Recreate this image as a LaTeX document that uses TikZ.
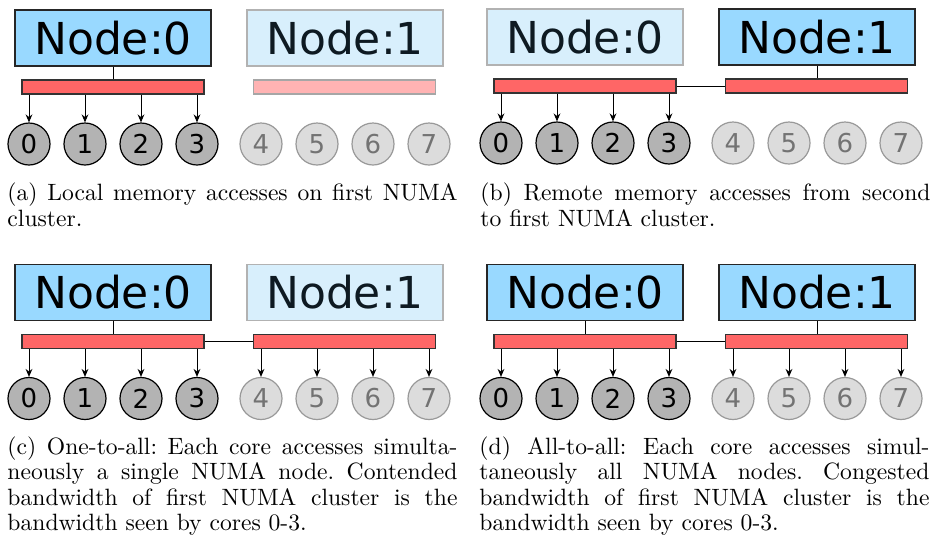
\documentclass[tikz,border=0pt]{standalone}
\usepackage{fontspec}
\newfontfamily\dejavu{DejaVu Sans}
\usetikzlibrary{arrows.meta}
\definecolor{nodeonc}{HTML}{99D9FF}
\definecolor{nodeoffc}{HTML}{D8EFFC}
\definecolor{nodeofftext}{HTML}{0E1A22}
\definecolor{baronc}{HTML}{FF6666}
\definecolor{baroffc}{HTML}{FFB3B3}
\definecolor{coreonc}{HTML}{B3B3B3}
\definecolor{coreoffc}{HTML}{DCDCDC}
\tikzset{
  numaon/.style={draw=black!85, line width=0.6pt, fill=nodeonc, minimum width=98pt,
    minimum height=28pt, inner sep=0pt, font=\dejavu\fontsize{22}{26}\selectfont},
  numaoff/.style={numaon, draw=black!30, fill=nodeoffc, text=nodeofftext},
  baron/.style={draw=black!80, fill=baronc, line width=0.6pt, minimum width=91pt,
    minimum height=7pt, inner sep=0pt},
  baroff/.style={baron, draw=black!35, fill=baroffc},
  coreon/.style={circle, draw=black, fill=coreonc, line width=0.6pt, minimum size=21pt,
    inner sep=0pt, font=\dejavu\fontsize{13}{15}\selectfont},
  coreoff/.style={coreon, draw=black!40, fill=coreoffc, text=black!55},
  acc/.style={-{Stealth[length=4pt,width=3.4pt]}, line width=0.5pt},
  link/.style={line width=0.5pt},
  captext/.style={anchor=base west, inner sep=0pt, scale=1.18, transform shape,
    font=\fontsize{10}{12}\selectfont\frenchspacing}
}
\newcommand\fl[1]{\makebox[190.7pt][s]{#1}}
\newcommand\numapanel[6]{%
  \begin{scope}[shift={(#2,#3)}]
    \node[#4] (#1n0) at (113,38) {Node:0};
    \node[#5] (#1n1) at (345,38) {Node:1};
    \node[baron] (#1b0) at (113,87) {};
    \node[#6] (#1b1) at (344.5,87) {};
    \foreach \i/\x in {0/29,1/85,2/141,3/197} {\node[coreon] (#1c\i) at (\x,144) {\i};}
    \foreach \i/\x in {4/261,5/317,6/373,7/429} {\node[coreoff] (#1c\i) at (\x,144) {\i};}
  \end{scope}}
\begin{document}
\begin{tikzpicture}[x=0.5pt,y=-0.5pt]
\useasboundingbox (0,0) rectangle (933,542);
% panels
\numapanel{a}{0}{0}{numaon}{numaoff}{baroff}
\numapanel{b}{472}{-1}{numaoff}{numaon}{baron}
\numapanel{c}{0}{254.5}{numaon}{numaoff}{baron}
\numapanel{d}{472}{254.5}{numaon}{numaon}{baron}
% (a)
\draw[link] (an0.south) -- (an0.south |- ab0.north);
\foreach \i in {0,...,3} {\draw[acc] (ab0.south -| ac\i) -- (ac\i);}
% (b)
\draw[link] (bn1.south) -- (bn1.south |- bb1.north);
\draw[link] (bb0) -- (bb1);
\foreach \i in {0,...,3} {\draw[acc] (bb0.south -| bc\i) -- (bc\i);}
% (c)
\draw[link] (cn0.south) -- (cn0.south |- cb0.north);
\draw[link] (cb0) -- (cb1);
\foreach \i in {0,...,3} {\draw[acc] (cb0.south -| cc\i) -- (cc\i);}
\foreach \i in {4,...,7} {\draw[acc] (cb1.south -| cc\i) -- (cc\i);}
% (d)
\draw[link] (dn0.south) -- (dn0.south |- db0.north);
\draw[link] (dn1.south) -- (dn1.south |- db1.north);
\draw[link] (db0) -- (db1);
\foreach \i in {0,...,3} {\draw[acc] (db0.south -| dc\i) -- (dc\i);}
\foreach \i in {4,...,7} {\draw[acc] (db1.south -| dc\i) -- (dc\i);}
% captions
\node[captext] (capa1) at (7,200) {\fl{(a) Local memory accesses on first NUMA}};
\node[captext] (capa2) at (7,226) {cluster.};
\node[captext] (capb1) at (480,200) {\fl{(b) Remote memory accesses from second}};
\node[captext] (capb2) at (480,226) {to first NUMA cluster.};
\node[captext] (capc1) at (7,454) {\fl{(c) One-to-all: Each core accesses simulta-}};
\node[captext] (capc2) at (7,479.5) {\fl{neously a single NUMA node. Contended}};
\node[captext] (capc3) at (7,505) {\fl{bandwidth of first NUMA cluster is the}};
\node[captext] (capc4) at (7,530.5) {bandwidth seen by cores 0-3.};
\node[captext] (capd1) at (479,454) {\fl{(d) All-to-all: Each core accesses simul-}};
\node[captext] (capd2) at (479,479.5) {\fl{taneously all NUMA nodes. Congested}};
\node[captext] (capd3) at (479,505) {\fl{bandwidth of first NUMA cluster is the}};
\node[captext] (capd4) at (479,530.5) {bandwidth seen by cores 0-3.};
\end{tikzpicture}
\end{document}
